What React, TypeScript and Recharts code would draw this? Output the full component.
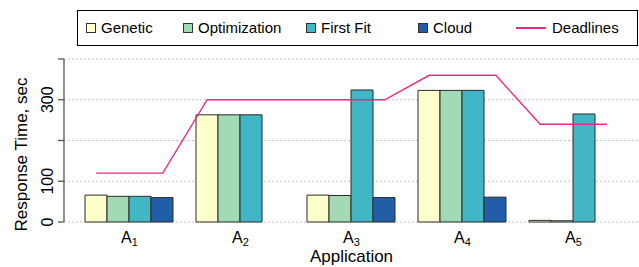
import { ComposedChart, Bar, Line, XAxis, YAxis, CartesianGrid, Label } from "recharts";

document.body.style.margin = "0";

// subscripts of A_i
const APPS = ["1", "2", "3", "4", "5"];
const GENETIC = [66, 263, 66, 323, 4];
const OPTIMIZATION = [63, 263, 65, 323, 3];
const FIRST_FIT = [63, 263, 324, 323, 265];
const CLOUD = [60, 0, 60, 61, 0];
const DEADLINES = [120, 300, 300, 360, 240];

const Y_TICKS = [0, 100, 200, 300, 400];
const Y_LABELED = [0, 100, 300];

const FONT = "'Liberation Sans', Arial, sans-serif";

const SERIES = [
  { key: "genetic", name: "Genetic", fill: "#ffffcc" },
  { key: "optimization", name: "Optimization", fill: "#a1dab4" },
  { key: "firstFit", name: "First Fit", fill: "#41b6c4" },
  { key: "cloud", name: "Cloud", fill: "#225ea8" },
];
const DEADLINE_COLOR = "#e7298a";

const data = APPS.map((a, i) => ({
  app: a,
  genetic: GENETIC[i],
  optimization: OPTIMIZATION[i],
  firstFit: FIRST_FIT[i],
  cloud: CLOUD[i],
}));

// deadline drawn as a flat step over each group, on a numeric axis matching the bands
const HALF = 0.3;
const deadlinePoints = DEADLINES.flatMap((d, i) => [
  { x: i - HALF, deadline: d },
  { x: i + HALF, deadline: d },
]);

function AppTick(props: any) {
  const { x, y, payload } = props;
  return (
    <text x={x} y={y} textAnchor="middle" fontFamily={FONT} fontSize={16} fill="#000">
      <tspan dy={21}>A</tspan>
      <tspan fontSize={11} dy={3}>{payload.value}</tspan>
    </text>
  );
}

function ValueTick(props: any) {
  const { x, y, payload } = props;
  if (!Y_LABELED.includes(payload.value)) return null;
  const bx = x - 5;
  return (
    <text
      x={bx}
      y={y}
      textAnchor="middle"
      transform={`rotate(-90 ${bx} ${y})`}
      fontFamily={FONT}
      fontSize={16}
      fill="#000"
    >
      {payload.value}
    </text>
  );
}

function YTitle(props: any) {
  const { viewBox } = props;
  const x = 27;
  const y = viewBox.y + viewBox.height / 2 + 14;
  return (
    <text x={x} y={y} textAnchor="middle" transform={`rotate(-90 ${x} ${y})`} fontFamily={FONT} fontSize={17} fill="#000">
      Response Time, sec
    </text>
  );
}

const LEGEND_X = [86, 183, 306, 418, 516];

function LegendBox() {
  const items = [...SERIES.map((s) => ({ name: s.name, fill: s.fill, line: false })), { name: "Deadlines", fill: DEADLINE_COLOR, line: true }];
  return (
    <div
      style={{
        position: "absolute",
        left: 77,
        top: 10,
        width: 561,
        height: 36,
        border: "1.5px solid #000",
        boxSizing: "border-box",
        fontFamily: FONT,
        fontSize: 15,
      }}
    >
      {items.map((it, i) => (
        <div
          key={it.name}
          style={{ position: "absolute", left: LEGEND_X[i] - 78, top: 0, height: 33, display: "flex", alignItems: "center" }}
        >
          {it.line ? (
            <span style={{ display: "inline-block", width: 30, height: 2, background: it.fill, marginRight: 6 }} />
          ) : (
            <span
              style={{
                display: "inline-block",
                width: 8,
                height: 8,
                background: it.fill,
                border: "1px solid #333",
                marginRight: 5,
              }}
            />
          )}
          <span>{it.name}</span>
        </div>
      ))}
    </div>
  );
}

export default function App() {
  return (
    <div style={{ position: "relative", width: 639, height: 267 }}>
      <ComposedChart
        width={639}
        height={267}
        data={data}
        margin={{ top: 59, right: 0, left: 0, bottom: 0 }}
        barCategoryGap={11}
        barGap={0}
      >
        <CartesianGrid vertical={false} stroke="#c4c4c4" strokeDasharray="2 2" />
        <XAxis
          dataKey="app"
          tick={<AppTick />}
          axisLine={false}
          tickLine={false}
          tickSize={0}
          tickMargin={0}
          height={45}
          padding={{ left: 10, right: 10 }}
          interval={0}
        >
          <Label value="Application" position="insideBottom" offset={5} fontFamily={FONT} fontSize={17} fill="#000" />
        </XAxis>
        <XAxis
          xAxisId="dl"
          type="number"
          dataKey="x"
          domain={[-0.5, 4.5]}
          allowDataOverflow
          hide
          padding={{ left: 10, right: 10 }}
        />
        <YAxis
          width={64}
          domain={[0, 400]}
          ticks={Y_TICKS}
          tick={<ValueTick />}
          tickSize={6}
          tickMargin={0}
          axisLine={{ stroke: "#555", strokeWidth: 1.3 }}
          tickLine={{ stroke: "#555", strokeWidth: 1.3 }}
          interval={0}
        >
          <Label content={<YTitle />} />
        </YAxis>
        {SERIES.map((s) => (
          <Bar
            key={s.key}
            dataKey={s.key}
            name={s.name}
            fill={s.fill}
            stroke="#2b2b2b"
            strokeWidth={1}
            isAnimationActive={false}
          />
        ))}
        <Line
          xAxisId="dl"
          data={deadlinePoints}
          dataKey="deadline"
          name="Deadlines"
          type="linear"
          stroke={DEADLINE_COLOR}
          strokeWidth={1.4}
          dot={false}
          activeDot={false}
          isAnimationActive={false}
        />
      </ComposedChart>
      <LegendBox />
    </div>
  );
}
